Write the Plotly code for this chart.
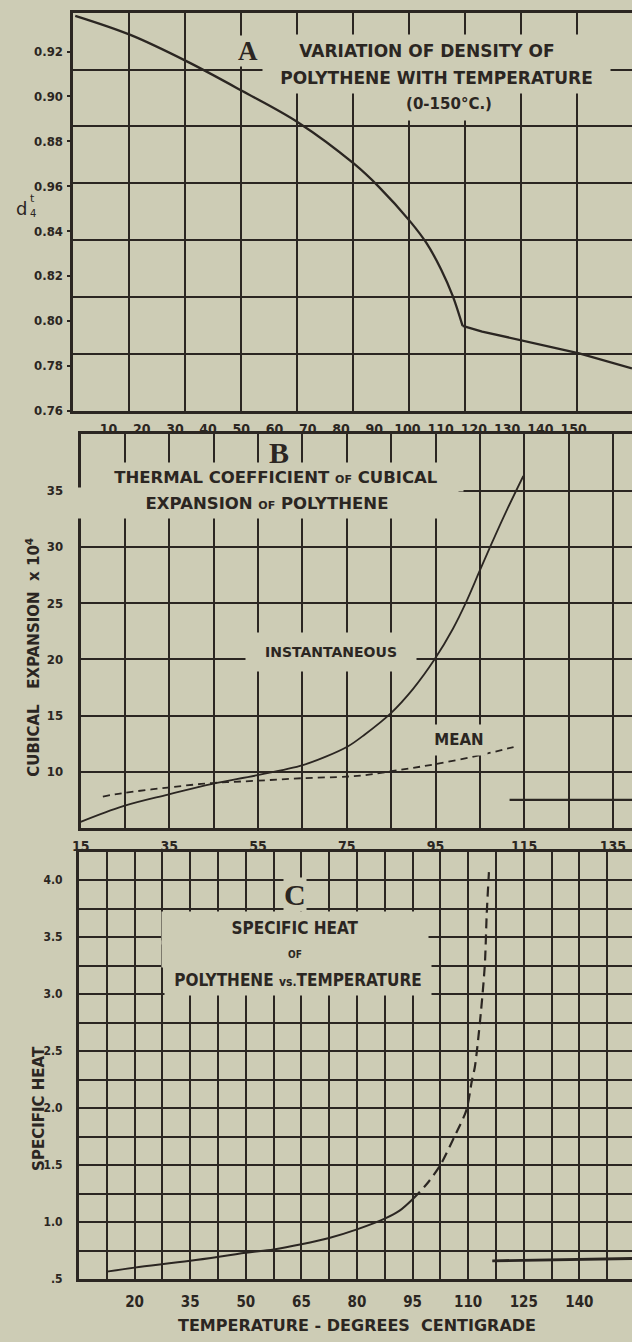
import plotly.graph_objects as go

# ---------------- data ----------------
# Panel A: density (d4t) of polythene vs temperature
a_temp = [0.0, 16.6, 33.6, 50.3, 67.1, 83.9, 91.4, 100.8, 105.7, 110.1, 113.6, 116.6]
a_density = [0.9359, 0.9274, 0.9156, 0.9024, 0.8884, 0.8700, 0.8597, 0.8443, 0.8347, 0.8230, 0.8112, 0.7977]
a_melt_temp = [116.6, 122.5, 151.7, 167.6]
a_melt_density = [0.7977, 0.7952, 0.7855, 0.7788]
a_xtick_vals = [10, 20, 30, 40, 50, 60, 70, 80, 90, 100, 110, 120, 130, 140, 150]
a_xtick_text = ["10", "20", "30", "40", "50", "60", "70", "80", "90", "100", "110", "120", "130", "140", "150"]
a_ytick_vals = [0.76, 0.78, 0.80, 0.82, 0.84, 0.86, 0.88, 0.90, 0.92]
a_ytick_text = ["0.76", "0.78", "0.80", "0.82", "0.84", "0.96", "0.88", "0.90", "0.92"]

# Panel B: thermal coefficient of cubical expansion x 10^4
b_inst_temp = [15, 24.6, 34.7, 44.7, 54.9, 65.1, 70, 75.2, 79, 84.9, 90, 94.8, 98.9, 101.8, 105, 108, 111, 114.8]
b_inst_value = [5.55, 6.95, 7.98, 8.93, 9.7, 10.6, 11.3, 12.25, 13.3, 15.2, 17.4, 20.0, 22.7, 25.0, 27.9, 30.6, 33.2, 36.3]
b_mean_temp = [20, 24.4, 34.6, 44.6, 54.6, 64.9, 75, 79, 87.1, 95, 105, 112.6]
b_mean_value = [7.8, 8.1, 8.6, 9.0, 9.2, 9.43, 9.57, 9.7, 10.18, 10.68, 11.48, 12.2]
b_liquid_temp = [111.7, 139.3]
b_liquid_value = [7.5, 7.5]
b_xtick_vals = [15, 35, 55, 75, 95, 115, 135]
b_xtick_text = ["15", "35", "55", "75", "95", "115", "135"]
b_ytick_vals = [10, 15, 20, 25, 30, 35]
b_ytick_text = ["10", "15", "20", "25", "30", "35"]

# Panel C: specific heat vs temperature
c_solid_temp = [12.5, 20, 35, 50, 57.5, 65, 72.5, 80, 87.5, 91.5, 95]
c_solid_value = [0.565, 0.60, 0.66, 0.73, 0.76, 0.805, 0.86, 0.936, 1.03, 1.10, 1.20]
c_dash_temp = [95, 99, 102.5, 106.3, 109.5, 111, 111.8, 113.4, 114.5, 115, 115.6]
c_dash_value = [1.20, 1.34, 1.50, 1.75, 1.98, 2.24, 2.36, 2.83, 3.26, 3.70, 4.07]
c_liquid_temp = [116.5, 154.2]
c_liquid_value = [0.66, 0.68]
c_xtick_vals = [20, 35, 50, 65, 80, 95, 110, 125, 140]
c_xtick_text = ["20", "35", "50", "65", "80", "95", "110", "125", "140"]
c_ytick_vals = [0.5, 1.0, 1.5, 2.0, 2.5, 3.0, 3.5, 4.0]
c_ytick_text = [".5", "1.0", "1.5", "2.0", "2.5", "3.0", "3.5", "4.0"]

# ---------------- style ----------------
W, H = 632, 1342
BG = "#cdccb5"
INK = "#2b2622"
NARROW = "Liberation Sans Narrow, DejaVu Sans Condensed, Arial Narrow, sans-serif"
COND = "DejaVu Sans Condensed, Liberation Sans Narrow, sans-serif"
WIDE = "DejaVu Sans, Verdana, sans-serif"
SERIF = "Liberation Serif, DejaVu Serif, serif"


def px(x, y):
    return x / W, 1 - y / H


fig = go.Figure()

fig.add_trace(go.Scatter(x=a_temp, y=a_density, mode="lines",
                         line=dict(color=INK, width=2.3, shape="spline", smoothing=1.0),
                         xaxis="x", yaxis="y"))
fig.add_trace(go.Scatter(x=a_melt_temp, y=a_melt_density, mode="lines", line=dict(color=INK, width=2.3),
                         xaxis="x", yaxis="y"))

fig.add_trace(go.Scatter(x=b_inst_temp, y=b_inst_value, mode="lines",
                         line=dict(color=INK, width=1.8, shape="spline", smoothing=1.0),
                         xaxis="x2", yaxis="y2"))
fig.add_trace(go.Scatter(x=b_mean_temp, y=b_mean_value, mode="lines",
                         line=dict(color=INK, width=1.8, dash="7px,5px", shape="spline", smoothing=1.0),
                         xaxis="x2", yaxis="y2"))
fig.add_trace(go.Scatter(x=b_liquid_temp, y=b_liquid_value, mode="lines", line=dict(color=INK, width=2.2),
                         xaxis="x2", yaxis="y2"))

fig.add_trace(go.Scatter(x=c_solid_temp, y=c_solid_value, mode="lines",
                         line=dict(color=INK, width=2.0, shape="spline", smoothing=1.0),
                         xaxis="x3", yaxis="y3"))
fig.add_trace(go.Scatter(x=c_dash_temp, y=c_dash_value, mode="lines",
                         line=dict(color=INK, width=2.2, dash="10px,6px", shape="spline", smoothing=0.8),
                         xaxis="x3", yaxis="y3"))
fig.add_trace(go.Scatter(x=c_liquid_temp, y=c_liquid_value, mode="lines", line=dict(color=INK, width=2.8),
                         xaxis="x3", yaxis="y3"))


def xaxis(dom_left, anchor, rng, vals, text, tick0, dtick, size, standoff):
    return dict(domain=[dom_left / W, 1], anchor=anchor, range=rng, tickmode="array",
                tickvals=vals, ticktext=text, ticks="", showgrid=False, zeroline=False,
                showline=True, linewidth=3, linecolor=INK, mirror=True,
                tickfont=dict(family=NARROW, size=size, color=INK, weight="bold"),
                ticklabelstandoff=standoff,
                minor=dict(tickmode="linear", tick0=tick0, dtick=dtick, showgrid=True,
                           gridcolor=INK, gridwidth=1.6, ticks=""))


def yaxis(top, bottom, anchor, rng, vals, text, tick0, dtick, size, standoff, ticks=""):
    return dict(domain=[1 - bottom / H, 1 - top / H], anchor=anchor, range=rng, tickmode="array",
                tickvals=vals, ticktext=text, ticks=ticks, ticklen=3, tickwidth=2, tickcolor=INK,
                showgrid=False, zeroline=False,
                showline=True, linewidth=3, linecolor=INK, mirror=False,
                tickfont=dict(family=NARROW, size=size, color=INK, weight="bold"),
                ticklabelstandoff=standoff,
                minor=dict(tickmode="linear", tick0=tick0, dtick=dtick, showgrid=True,
                           gridcolor=INK, gridwidth=1.6, ticks=""))


fig.update_layout(
    width=W, height=H, margin=dict(l=0, r=0, t=0, b=0),
    paper_bgcolor=BG, plot_bgcolor=BG, showlegend=False, hovermode=False,
    xaxis=xaxis(64.5, "y", [-0.8, 167.6], a_xtick_vals, a_xtick_text, -0.8, 16.88, 14, 4),
    yaxis=yaxis(13, 413, "x", [0.76, 0.9372], a_ytick_vals, a_ytick_text, 0.76, 0.02532, 13, 1, ticks="outside"),
    xaxis2=xaxis(72.7, "y2", [15, 139.3], b_xtick_vals, b_xtick_text, 15, 10, 14, 3),
    yaxis2=yaxis(437, 833, "x2", [5, 40], b_ytick_vals, b_ytick_text, 5, 5, 13, 12),
    xaxis3=xaxis(71, "y3", [5, 154.2], c_xtick_vals, c_xtick_text, 5, 7.5, 15, 7),
    yaxis3=yaxis(856.7, 1286.7, "x3", [0.5, 4.25], c_ytick_vals, c_ytick_text, 0.5, 0.25, 12, 11),
)

anns = []


def note(x, y, text, size, family=WIDE, bg=None, w=None, h=None, angle=0, pad=1):
    xp, yp = px(x, y)
    d = dict(x=xp, y=yp, xref="paper", yref="paper", text=text, showarrow=False,
             xanchor="center", yanchor="middle", textangle=angle,
             font=dict(family=family, size=size, color=INK), borderpad=pad)
    if bg:
        d["bgcolor"] = BG
    if w:
        d["width"] = w
    if h:
        d["height"] = h
    anns.append(d)


# Panel A labels
note(424, 51, "<b>VARIATION OF DENSITY OF</b>", 17, WIDE, bg=True, w=330, h=30)
note(434, 78, "<b>POLYTHENE WITH TEMPERATURE</b>", 17, WIDE, bg=True, w=345, h=28)
note(446, 105, "<b>(0-150°C.)</b>", 15, WIDE, bg=True, w=96, h=30)
note(242, 51, "<b>A</b>", 27, SERIF, bg=True, pad=0)
note(13, 210, "d", 18, WIDE)
note(24, 200, "t", 11, WIDE)
note(24, 215, "4", 10, WIDE)

# Panel B labels
note(271, 480, "<b>THERMAL COEFFICIENT <span style='font-size:11px'>OF</span> CUBICAL</b>", 16.5, WIDE,
     bg=True, w=372, h=26)
note(262, 506, "<b>EXPANSION <span style='font-size:11px'>OF</span> POLYTHENE</b>", 16.5, WIDE,
     bg=True, w=380, h=28)
note(274, 455, "<b>B</b>", 30, SERIF, pad=0)
note(327, 656, "<b>INSTANTANEOUS</b>", 14, WIDE, bg=True, w=168, h=36)
note(456, 744, "<b>MEAN</b>", 15, WIDE, bg=True, w=54, h=28)
note(24, 661, "<b>CUBICAL&nbsp;&nbsp;&nbsp;EXPANSION&nbsp;&nbsp;x 10<sup>4</sup></b>", 15, WIDE, angle=-90)

# Panel C labels
note(290, 934, "<b>SPECIFIC HEAT</b>", 17, COND, bg=True, w=264, h=30)
note(290, 960, "<b>OF</b>", 10, COND, bg=True, w=264, h=24)
note(293, 986, "<b>POLYTHENE <span style='font-size:12px'>vs.</span>TEMPERATURE</b>", 17, COND,
     bg=True, w=264, h=28)
note(290, 900, "<b>C</b>", 30, SERIF, bg=True, pad=0)
note(31, 1115, "<b>SPECIFIC HEAT</b>", 15, WIDE, angle=-90)
note(353, 1333, "<b>TEMPERATURE - DEGREES&nbsp;&nbsp;CENTIGRADE</b>", 16, WIDE)

fig.update_layout(annotations=anns)

fig.write_html("out.html", config={"displayModeBar": False})
